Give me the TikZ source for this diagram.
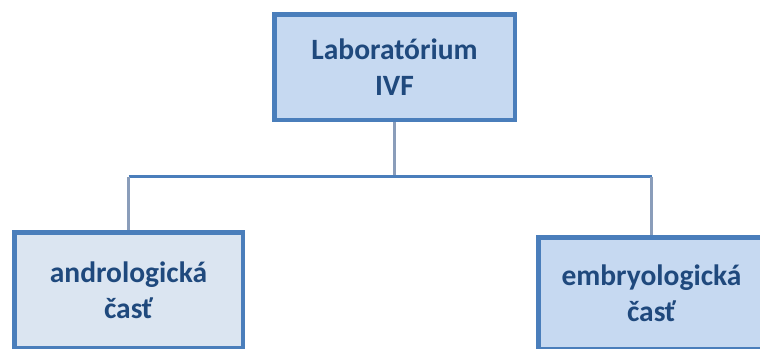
\documentclass[tikz,border=0pt]{standalone}
\usepackage{fontspec}
\setmainfont{Carlito}
\usetikzlibrary{positioning}

\definecolor{boxline}{HTML}{4A7EBB}
\definecolor{boxfill}{HTML}{C6D9F1}
\definecolor{boxpale}{HTML}{DBE5F1}
\definecolor{boxtext}{HTML}{1F497D}
\definecolor{stem}{HTML}{8A9DBA}

\begin{document}
\begin{tikzpicture}[
    x=1pt, y=-1pt,
    unit/.style={draw=boxline, line width=4.5pt, fill=boxfill, text=boxtext,
                 align=center, font=\fontsize{29.5}{36}\selectfont\bfseries},
    stemline/.style={draw=stem, line width=3.5pt},
    busline/.style={draw=boxline, line width=3.5pt}
]

\def\busy{176.5}

\useasboundingbox (0,0) rectangle (760,348);
\clip (0,0) rectangle (760,348);

\node[unit, minimum width=240.5pt, minimum height=105.5pt] (lab) at (394.5,67) {Laboratórium\\IVF};
\node[unit, fill=boxpale, minimum width=228.5pt, minimum height=115.5pt] (andro) at (128.5,290) {andrologická\\časť};
\node[unit, minimum width=226.5pt, minimum height=111.5pt] (embryo) at (651.5,293) {embryologická\\časť};

% tree connectors
\coordinate (busmid) at (lab.south |- 0,\busy);
\coordinate (busleft) at (andro.north |- 0,\busy);
\coordinate (busright) at (embryo.north |- 0,\busy);

\draw[stemline] (lab.south) -- (busmid);
\draw[busline] (busleft) -- (busright);
\draw[stemline] (busleft) -- (andro.north);
\draw[stemline] (busright) -- (embryo.north);

\end{tikzpicture}
\end{document}
